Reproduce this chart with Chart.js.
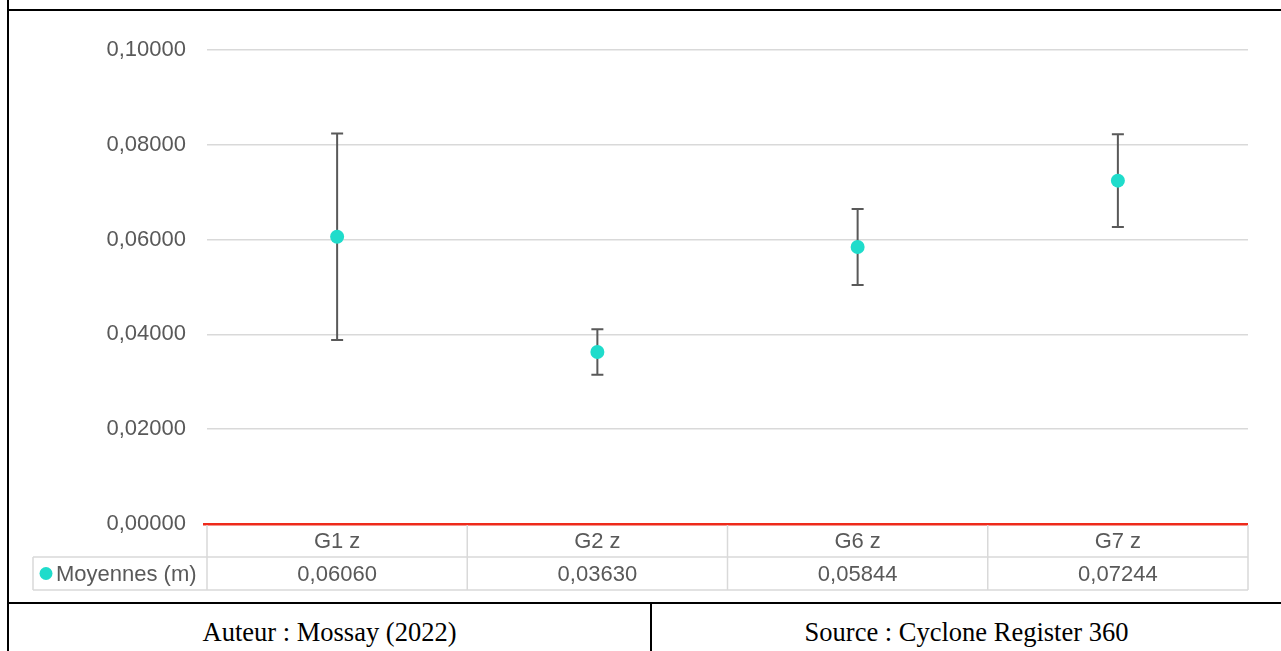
<!DOCTYPE html>
<html>
<head>
<meta charset="utf-8">
<script src="https://cdn.jsdelivr.net/npm/chart.js@4/dist/chart.umd.min.js"></script>
<style>
	body { margin: 0; background: #fff; width: 1281px; height: 651px; overflow: hidden; position: relative; }
	.line { position: absolute; background: #000; }
	.foot { position: absolute; top: 614px; height: 36px; line-height: 36px; text-align: center;
		font-family: "Liberation Serif", "Times New Roman", serif; font-size: 26.5px; color: #000; }
	#wrap { position: absolute; left: 9px; top: 11px; width: 1272px; height: 592px; }
</style>
</head>
<body>
<div class="line" style="left:7px;top:0;width:2px;height:651px"></div>
<div class="line" style="left:7px;top:9px;width:1274px;height:2px"></div>
<div class="line" style="left:7px;top:602px;width:1274px;height:2px"></div>
<div class="line" style="left:650px;top:602px;width:2px;height:49px"></div>
<div class="foot" style="left:9px;width:641px">Auteur : Mossay (2022)</div>
<div class="foot" style="left:652px;width:629px">Source : Cyclone Register 360</div>
<div id="wrap"><canvas id="chart"></canvas></div>
<script>
var categories = ['G1 z', 'G2 z', 'G6 z', 'G7 z'];
var means = [0.06060, 0.03630, 0.05844, 0.07244];
var errors = [0.0218, 0.0048, 0.0080, 0.0098];
var seriesName = 'Moyennes (m)';

var teal = '#1fdccb';
var textGray = '#595959';
var gridGray = '#d9d9d9';
var font = '22px "Liberation Sans", Arial, sans-serif';

function fmt(v) {
	return v.toFixed(5).replace('.', ',');
}

// error bars, drawn under the points
var errorBars = {
	id: 'errorBars',
	beforeDatasetsDraw: function(chart) {
		var ctx = chart.ctx;
		var x = chart.scales.x, y = chart.scales.y;
		ctx.save();
		ctx.strokeStyle = '#595959';
		ctx.lineWidth = 2;
		for (var i = 0; i < means.length; i++) {
			var px = x.getPixelForValue(i);
			var top = y.getPixelForValue(means[i] + errors[i]);
			var bot = y.getPixelForValue(means[i] - errors[i]);
			ctx.beginPath();
			ctx.moveTo(px, top); ctx.lineTo(px, bot);
			ctx.moveTo(px - 6, top); ctx.lineTo(px + 6, top);
			ctx.moveTo(px - 6, bot); ctx.lineTo(px + 6, bot);
			ctx.stroke();
		}
		ctx.restore();
	}
};

// data table under the plot
var dataTable = {
	id: 'dataTable',
	afterDraw: function(chart) {
		var ctx = chart.ctx;
		var x = chart.scales.x, y = chart.scales.y;
		var area = chart.chartArea;
		var rowH = 33;
		var y0 = y.bottom, y1 = y0 + rowH, y2 = y1 + rowH;
		var legendLeft = area.left - 174;
		var edges = [area.left];
		for (var i = 0; i < categories.length - 1; i++) {
			edges.push((x.getPixelForValue(i) + x.getPixelForValue(i + 1)) / 2);
		}
		edges.push(area.right);

		ctx.save();
		ctx.strokeStyle = gridGray;
		ctx.lineWidth = 1.5;
		ctx.beginPath();
		edges.forEach(function(e) {
			ctx.moveTo(e, y0 + 1); ctx.lineTo(e, y2);
		});
		ctx.moveTo(legendLeft, y1); ctx.lineTo(area.right, y1);
		ctx.moveTo(legendLeft, y2); ctx.lineTo(area.right, y2);
		ctx.moveTo(legendLeft, y1); ctx.lineTo(legendLeft, y2);
		ctx.stroke();

		ctx.fillStyle = textGray;
		ctx.font = font;
		ctx.textAlign = 'center';
		ctx.textBaseline = 'middle';
		for (var j = 0; j < categories.length; j++) {
			var cx = x.getPixelForValue(j);
			ctx.fillText(categories[j], cx, y0 + rowH / 2 + 1);
			ctx.fillText(fmt(means[j]), cx, y1 + rowH / 2 + 1);
		}
		ctx.textAlign = 'left';
		ctx.fillText(seriesName, legendLeft + 23, y1 + rowH / 2 + 1);
		ctx.fillStyle = teal;
		ctx.beginPath();
		ctx.arc(legendLeft + 13, y1 + rowH / 2, 6.5, 0, Math.PI * 2);
		ctx.fill();
		ctx.restore();
	}
};

new Chart(document.getElementById('chart'), {
	type: 'line',
	data: {
		labels: categories,
		datasets: [{
			label: seriesName,
			data: means,
			showLine: false,
			pointRadius: 7,
			pointBackgroundColor: teal,
			pointBorderWidth: 0
		}]
	},
	options: {
		responsive: true,
		maintainAspectRatio: false,
		animation: false,
		layout: { padding: { left: 0, right: 33, top: 39, bottom: 79 } },
		plugins: { legend: { display: false }, tooltip: { enabled: false } },
		scales: {
			x: { display: false, offset: true },
			y: {
				min: 0,
				max: 0.1,
				afterFit: function(scale) { scale.width = 198; },
				border: { display: false },
				grid: {
					drawTicks: true,
					tickLength: 4,
					tickColor: function(c) { return c.tick && c.tick.value === 0 ? '#ee2a1b' : 'rgba(0,0,0,0)'; },
					color: function(c) { return c.tick && c.tick.value === 0 ? '#ee2a1b' : gridGray; },
					lineWidth: function(c) { return c.tick && c.tick.value === 0 ? 2.5 : 1.5; }
				},
				ticks: {
					stepSize: 0.02,
					padding: 17,
					color: textGray,
					font: { family: '"Liberation Sans", Arial, sans-serif', size: 22 },
					callback: function(v) { return fmt(v); }
				}
			}
		}
	},
	plugins: [errorBars, dataTable]
});
</script>
</body>
</html>
